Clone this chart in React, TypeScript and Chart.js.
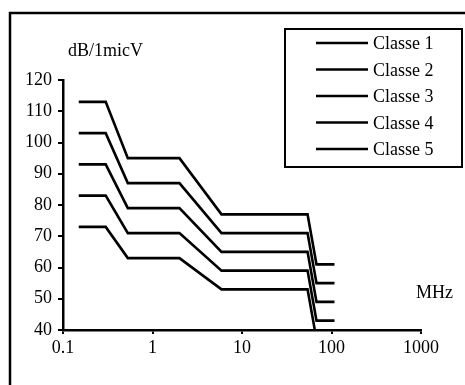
import { useEffect, useRef } from 'react';
import { Chart, registerables } from 'chart.js';

Chart.register(...registerables);

// Frequency breakpoints (MHz), shared by all classes
const frequencies = [0.15, 0.3, 0.53, 2, 5.9, 54, 68, 108];
// Limit levels (dB/1µV) per class at each breakpoint
const classe1 = [113, 113, 95, 95, 77, 77, 61, 61];
const classe2 = [103, 103, 87, 87, 71, 71, 55, 55];
const classe3 = [93, 93, 79, 79, 65, 65, 49, 49];
const classe4 = [83, 83, 71, 71, 59, 59, 43, 43];
const classe5 = [73, 73, 63, 63, 53, 53, 37, 37];
const seriesLabels = ['Classe 1', 'Classe 2', 'Classe 3', 'Classe 4', 'Classe 5'];
const seriesValues = [classe1, classe2, classe3, classe4, classe5];
const xTickValues = [0.1, 1, 10, 100, 1000];
const xTickLabels = ['0.1', '1', '10', '100', '1000'];
const yAxisTitle = 'dB/1micV';
const xAxisTitle = 'MHz';

const FONT = '"Liberation Serif", "Times New Roman", serif';

const decorPlugin = {
  id: 'decor',
  afterDraw(chart: any) {
    const ctx = chart.ctx as CanvasRenderingContext2D;
    ctx.save();
    ctx.strokeStyle = '#000';
    ctx.fillStyle = '#000';
    ctx.lineWidth = 2.5;
    // outer frame (top + left visible)
    ctx.beginPath();
    ctx.moveTo(10, 385);
    ctx.lineTo(10, 13);
    ctx.lineTo(465, 13);
    ctx.stroke();
    // axis titles
    ctx.font = `18px ${FONT}`;
    ctx.textAlign = 'left';
    ctx.textBaseline = 'alphabetic';
    ctx.fillText(yAxisTitle, 68, 56);
    ctx.fillText(xAxisTitle, 416, 298);
    // legend
    ctx.lineWidth = 2;
    ctx.strokeRect(285, 29, 177, 138);
    ctx.lineWidth = 2.5;
    chart.data.datasets.forEach((ds: any, i: number) => {
      const y = 43 + i * 26.5;
      ctx.beginPath();
      ctx.moveTo(316, y);
      ctx.lineTo(368, y);
      ctx.stroke();
      ctx.fillText(ds.label, 373, y + 6);
    });
    ctx.restore();
  },
};

export default function App() {
  const ref = useRef<HTMLCanvasElement>(null);
  useEffect(() => {
    if (!ref.current) return;
    const chart = new Chart(ref.current, {
      type: 'line',
      data: {
        datasets: seriesValues.map((vals, i) => ({
          label: seriesLabels[i],
          data: frequencies.map((f, j) => ({ x: f, y: vals[j] })),
          borderColor: '#000',
          borderWidth: 2.6,
          pointRadius: 0,
          tension: 0,
          fill: false,
        })),
      },
      options: {
        animation: false,
        responsive: false,
        maintainAspectRatio: false,
        layout: { padding: { top: 80, right: 44, bottom: 0, left: 0 } },
        plugins: {
          legend: { display: false },
          tooltip: { enabled: false },
        },
        scales: {
          x: {
            type: 'logarithmic',
            min: 0.1,
            max: 1000,
            afterBuildTicks: (scale: any) => {
              scale.ticks = xTickValues.map((v) => ({ value: v }));
            },
            afterFit: (scale: any) => {
              scale.height = 55;
            },
            ticks: {
              color: '#000',
              font: { family: FONT, size: 18 },
              padding: 3,
              maxRotation: 0,
              autoSkip: false,
              callback: (v: any) => {
                const idx = xTickValues.indexOf(Number(v));
                return idx >= 0 ? xTickLabels[idx] : '';
              },
            },
            grid: {
              drawOnChartArea: false,
              drawTicks: true,
              tickLength: 4,
              color: '#000',
              lineWidth: 2,
            },
            border: { color: '#000', width: 2.5 },
          },
          y: {
            type: 'linear',
            min: 40,
            max: 120,
            afterFit: (scale: any) => {
              scale.width = 63;
            },
            ticks: {
              stepSize: 10,
              color: '#000',
              font: { family: FONT, size: 18 },
              padding: 6,
            },
            grid: {
              drawOnChartArea: false,
              drawTicks: true,
              tickLength: 5,
              color: '#000',
              lineWidth: 2,
            },
            border: { color: '#000', width: 2.5 },
          },
        },
      },
      plugins: [decorPlugin],
    });
    return () => chart.destroy();
  }, []);
  return (
    <div style={{ position: 'absolute', left: 0, top: 0, width: 465, height: 385, background: '#fff' }}>
      <canvas ref={ref} width={465} height={385} style={{ width: 465, height: 385 }} />
    </div>
  );
}
